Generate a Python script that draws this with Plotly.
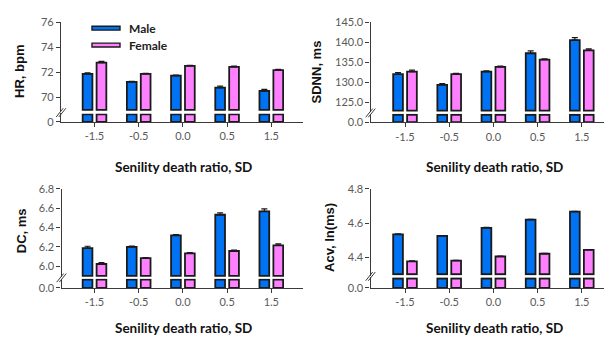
import numpy as np
import plotly.graph_objects as go

# ---------------- data ----------------
categories = ["-1.5", "-0.5", "0.0", "0.5", "1.5"]

hr_male = [71.88, 71.24, 71.74, 70.78, 70.52]
hr_female = [72.78, 71.88, 72.52, 72.45, 72.18]
hr_male_err = [0.08, 0.05, 0.05, 0.12, 0.12]
hr_female_err = [0.10, 0.04, 0.05, 0.06, 0.07]

sdnn_male = [132.1, 129.4, 132.7, 137.3, 140.6]
sdnn_female = [132.7, 132.1, 133.9, 135.7, 138.0]
sdnn_male_err = [0.4, 0.3, 0.2, 0.6, 0.6]
sdnn_female_err = [0.4, 0.2, 0.2, 0.2, 0.4]

dc_male = [6.186, 6.200, 6.318, 6.532, 6.567]
dc_female = [6.022, 6.082, 6.133, 6.157, 6.215]
dc_male_err = [0.02, 0.008, 0.008, 0.02, 0.025]
dc_female_err = [0.015, 0.006, 0.006, 0.01, 0.015]

acv_male = [4.534, 4.525, 4.572, 4.620, 4.667]
acv_female = [4.376, 4.380, 4.404, 4.420, 4.443]
acv_male_err = [0.002, 0.002, 0.002, 0.002, 0.002]
acv_female_err = [0.002, 0.002, 0.002, 0.002, 0.002]

series_names = ["Male", "Female"]

# ---------------- style ----------------
W, H = 604, 344
MALE_C = "#0072F4"
FEMALE_C = "#FF80FF"
EDGE = "#1a1a1a"
AXC = "#3a3a3a"
TICKC = "#595959"
TICKFONT = dict(family="Lato", size=11, color=TICKC)
XTITLEFONT = dict(family="Lato", size=13.5, color="#111111")
YTITLEFONT = dict(family="Liberation Sans", size=13, color="#111111")


def px(x):
    return x / W


def py(y):
    return 1 - y / H


xs = np.arange(len(categories))
PXU = 44.2  # px per category

panels = [
    dict(m=hr_male, f=hr_female, me=hr_male_err, fe=hr_female_err, ytitle="HR, bpm",
         xl=61, xr=303, t0=94.5, vt=76, pt=16, s=13.0, base=69.0, rb=68.85,
         lo=(110.6, 119.5), upticks=[70, 72, 74, 76], fmt="{:.0f}", zero="0",
         ytx=20, yty=67.5, xtx=183, xty=166),
    dict(m=sdnn_male, f=sdnn_female, me=sdnn_male_err, fe=sdnn_female_err, ytitle="SDNN, ms",
         xl=370.5, xr=604, t0=405, vt=145, pt=16, s=4.165, base=123.0, rb=122.6,
         lo=(110.9, 119.8), upticks=[125, 130, 135, 140, 145], fmt="{:.1f}", zero="0.0",
         ytx=316.5, yty=67.5, xtx=494, xty=166),
    dict(m=dc_male, f=dc_female, me=dc_male_err, fe=dc_female_err, ytitle="DC, ms",
         xl=61.5, xr=303, t0=94.5, vt=6.8, pt=189, s=100.4, base=5.9, rb=5.886,
         lo=(282.2, 292), upticks=[6.0, 6.2, 6.4, 6.6, 6.8], fmt="{:.1f}", zero="0.0",
         ytx=21, yty=233, xtx=183, xty=334),
    dict(m=acv_male, f=acv_female, me=acv_male_err, fe=acv_female_err, ytitle="Acv, ln(ms)",
         xl=370.5, xr=604, t0=405, vt=4.8, pt=189, s=177.5, base=4.30, rb=4.292,
         lo=(280.8, 292), upticks=[4.4, 4.6, 4.8], fmt="{:.1f}", zero="0.0",
         ytx=330, yty=240, xtx=494, xty=334),
]

fig = go.Figure()
layout = {}
shapes = []
annotations = []

LOW_TOP = 1.0      # range top of the short lower segment
SEG_FRAC = 0.88    # visible part of bars in the lower segment

for i, p in enumerate(panels):
    k = i + 1
    xa = "x" if k == 1 else f"x{k}"
    ylo_n = 2 * i + 1
    yup_n = 2 * i + 2
    ylo = "y" if ylo_n == 1 else f"y{ylo_n}"
    yup = f"y{yup_n}"

    x0 = (p["xl"] - p["t0"]) / PXU
    x1 = (p["xr"] - p["t0"]) / PXU
    layout["xaxis" if k == 1 else f"xaxis{k}"] = dict(
        domain=[px(p["xl"]), min(1.0, px(p["xr"]))], range=[x0, x1], anchor=ylo,
        tickmode="array", tickvals=xs, ticktext=categories,
        showline=True, linecolor=AXC, linewidth=1.2, ticks="outside", ticklen=4,
        tickcolor=AXC, tickfont=TICKFONT, showgrid=False, zeroline=False,
        fixedrange=True,
    )
    pb_up = p["pt"] + (p["vt"] - p["rb"]) * p["s"]
    layout[f"yaxis{yup_n}"] = dict(
        domain=[py(pb_up), py(p["pt"])], range=[p["rb"], p["vt"]], anchor=xa,
        tickmode="array", tickvals=p["upticks"],
        ticktext=[p["fmt"].format(v) for v in p["upticks"]],
        showline=True, linecolor=AXC, linewidth=1.2, ticks="outside", ticklen=4,
        tickcolor=AXC, tickfont=TICKFONT, showgrid=False, zeroline=False,
    )
    layout["yaxis" if ylo_n == 1 else f"yaxis{ylo_n}"] = dict(
        domain=[py(p["lo"][1]), py(p["lo"][0])], range=[0, LOW_TOP], anchor=xa,
        tickmode="array", tickvals=[0], ticktext=[p["zero"]],
        showline=True, linecolor=AXC, linewidth=1.2, ticks="outside", ticklen=4,
        tickcolor=AXC, tickfont=TICKFONT, showgrid=False, zeroline=False,
    )

    for name, vals, errs, col in [("Male", p["m"], p["me"], MALE_C),
                                  ("Female", p["f"], p["fe"], FEMALE_C)]:
        vals = np.asarray(vals, dtype=float)
        fig.add_trace(go.Bar(
            x=xs, y=vals - p["base"], base=p["base"], name=name, xaxis=xa, yaxis=yup,
            marker=dict(color=col, line=dict(color=EDGE, width=1.8)),
            offsetgroup=name, showlegend=False,
            error_y=dict(type="data", array=errs, arrayminus=[0] * len(errs), symmetric=False,
                         color=EDGE, thickness=1.2, width=3),
            customdata=vals, hovertemplate=name + ": %{customdata}<extra></extra>",
        ))
        fig.add_trace(go.Bar(
            x=xs, y=np.minimum(vals, SEG_FRAC * LOW_TOP), name=name, xaxis=xa, yaxis=ylo,
            marker=dict(color=col, line=dict(color=EDGE, width=1.8)),
            offsetgroup=name, showlegend=False, hoverinfo="skip",
        ))

    gy = (pb_up + p["lo"][0]) / 2
    axx = p["xl"]
    for d in (-1.3, 1.3):
        shapes.append(dict(type="line", xref="paper", yref="paper",
                           x0=px(axx - 3.5 + d), y0=py(gy + 4.5),
                           x1=px(axx + 3.5 + d), y1=py(gy - 4.5),
                           line=dict(color=AXC, width=1)))

    annotations.append(dict(text="<b>" + p["ytitle"] + "</b>", xref="paper", yref="paper",
                            x=px(p["ytx"]), y=py(p["yty"]), textangle=-90, showarrow=False,
                            font=YTITLEFONT, xanchor="center", yanchor="middle"))
    annotations.append(dict(text="<b>Senility death ratio, SD</b>", xref="paper", yref="paper",
                            x=px(p["xtx"]), y=py(p["xty"]), showarrow=False,
                            font=XTITLEFONT, xanchor="center", yanchor="middle"))

for j, (nm, col, ly) in enumerate([(series_names[0], MALE_C, 22), (series_names[1], FEMALE_C, 39.5)]):
    shapes.append(dict(type="rect", xref="paper", yref="paper",
                       x0=px(92), x1=px(120), y0=py(ly + 2), y1=py(ly - 2),
                       fillcolor=col, line=dict(color=EDGE, width=1.4)))
    annotations.append(dict(text="<b>" + nm + "</b>", xref="paper", yref="paper",
                            x=px(126.5), y=py(ly), showarrow=False, xanchor="left",
                            yanchor="middle", font=dict(family="Lato", size=12, color="#222222")))

fig.update_layout(
    width=W, height=H, margin=dict(l=0, r=0, t=0, b=0),
    paper_bgcolor="white", plot_bgcolor="white",
    barmode="group", bargap=0.37, bargroupgap=0.3,
    showlegend=False, shapes=shapes, annotations=annotations,
    **layout,
)

fig.write_html("out.html", config={"displayModeBar": False},
               post_script="document.body.style.margin='0';")
